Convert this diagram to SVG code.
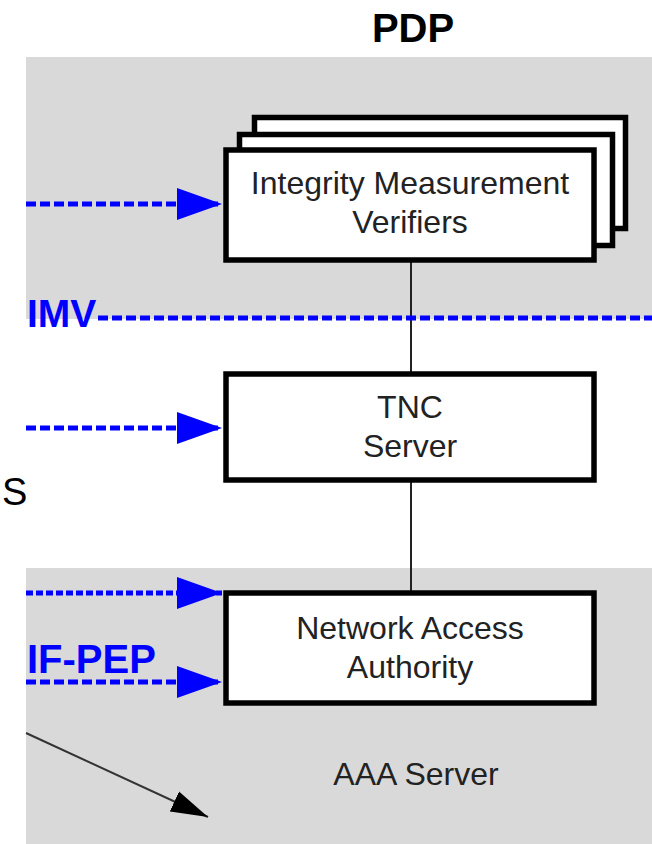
<svg xmlns="http://www.w3.org/2000/svg" width="652" height="844" viewBox="0 0 652 844">
<style>
.box{fill:#fff;stroke:#000;stroke-width:5.5}
.t{font-family:"Liberation Sans",Arial,sans-serif;font-size:32px;fill:#222;text-anchor:middle}
.lbl{font-family:"Liberation Sans",Arial,sans-serif;font-weight:bold;fill:#0000ff}
.dash{stroke:#0000ff;stroke-width:5;stroke-dasharray:10 4;fill:none}
.dot{stroke:#0000ff;stroke-width:5;stroke-dasharray:7 3;fill:none}
.link{stroke:#222;stroke-width:2;fill:none}
</style>
<defs>
<marker id="bh" markerUnits="userSpaceOnUse" markerWidth="46" markerHeight="32" refX="45" refY="16" orient="auto">
<path d="M0,0 L45,16 L0,32 Z" fill="#0000ff"/>
</marker>
<marker id="kh" markerUnits="userSpaceOnUse" markerWidth="38" markerHeight="24" refX="37" refY="12" orient="auto">
<path d="M0,1 L37,12 L0,23 Z" fill="#000"/>
</marker>
</defs>
<rect width="652" height="844" fill="#fff"/>
<g id="panels">
<rect x="26" y="57" width="626" height="262" fill="#d9d9d9"/>
<rect x="26" y="568" width="626" height="276" fill="#d9d9d9"/>
</g>
<g id="connectors">
<line class="link" x1="411" y1="262" x2="411" y2="372"/>
<line class="link" x1="411" y1="482" x2="411" y2="591"/>
<line class="dash" x1="98" y1="318" x2="652" y2="318"/>
<line class="dash" x1="26" y1="204" x2="222" y2="204" marker-end="url(#bh)"/>
<line class="dash" x1="26" y1="428" x2="222" y2="428" marker-end="url(#bh)"/>
<line class="dot" x1="26" y1="593" x2="222" y2="593" marker-end="url(#bh)"/>
<line class="dash" x1="26" y1="682" x2="222" y2="682" marker-end="url(#bh)"/>
<line x1="26" y1="733" x2="208" y2="817" stroke="#333" stroke-width="2" marker-end="url(#kh)"/>
</g>
<g id="imv">
<rect class="box" x="254.5" y="117.5" width="371" height="111"/>
<rect class="box" x="239.5" y="134.5" width="373" height="111"/>
<rect class="box" x="226" y="150" width="368" height="110"/>
<text class="t" x="410" y="194">Integrity Measurement</text>
<text class="t" x="410" y="233">Verifiers</text>
</g>
<g id="tnc">
<rect class="box" x="226" y="374" width="368" height="106"/>
<text class="t" x="410" y="418">TNC</text>
<text class="t" x="410" y="457">Server</text>
</g>
<g id="naa">
<rect class="box" x="226" y="593" width="368" height="110"/>
<text class="t" x="410" y="639">Network Access</text>
<text class="t" x="410" y="678">Authority</text>
</g>
<g id="labels">
<text x="413" y="42" font-family="Liberation Sans,Arial,sans-serif" font-weight="bold" font-size="40" text-anchor="middle" fill="#000">PDP</text>
<text class="lbl" x="27" y="327" font-size="39">IMV</text>
<text class="lbl" x="27" y="673" font-size="40">IF-PEP</text>
<text x="2" y="505" font-family="Liberation Sans,Arial,sans-serif" font-size="38" fill="#000">S</text>
<text class="t" x="416" y="785">AAA Server</text>
</g>
</svg>
